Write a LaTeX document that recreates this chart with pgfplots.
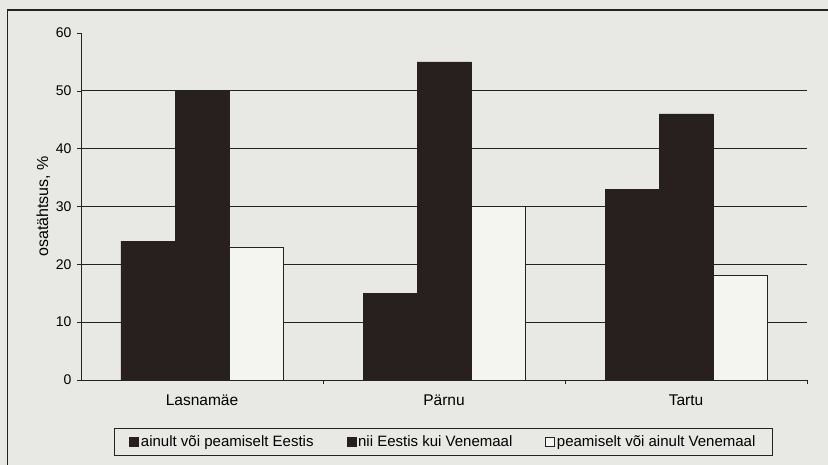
\documentclass[border=0pt]{standalone}
\usepackage{fontspec}
\setmainfont{Liberation Sans}
\usepackage{pgfplots}
\pgfplotsset{compat=1.18}

\definecolor{paper}{RGB}{232,232,228}
\definecolor{barlight}{RGB}{244,244,240}
\definecolor{bardark}{RGB}{40,32,30}
\definecolor{ink}{RGB}{35,35,35}

\begin{document}
\begin{tikzpicture}
  \useasboundingbox (0,0) rectangle (828bp,465bp);
  \fill[paper] (0,0) rectangle (828bp,465bp);
  % outer frame of the figure
  \draw[ink, line width=1.6bp] (7.5bp,-5bp) -- (7.5bp,455bp) -- (840bp,455bp);

  \begin{axis}[
    at={(81bp,85bp)}, anchor=south west,
    scale only axis,
    width=726bp, height=347bp,
    xmin=-0.5, xmax=2.5,
    ymin=0, ymax=60,
    enlargelimits=false,
    axis x line*=bottom,
    axis y line*=left,
    axis line style={-, ink, line width=0.8bp},
    ybar=0pt,
    bar width=54bp,
    tick align=outside,
    major tick length=4bp,
    xtick={0,1,2},
    xticklabels={Lasnamäe, Pärnu, Tartu},
    major x tick style={draw=none},
    extra x ticks={0.5,1.5,2.5},
    extra x tick labels={},
    extra x tick style={major x tick style={draw=ink, line width=0.6bp}, grid=none},
    xticklabel style={font=\fontsize{15.5bp}{17bp}\selectfont, yshift=-7bp},
    ytick={0,10,...,50},
    extra y ticks={60},
    extra y tick style={grid=none},
    ymajorgrids,
    grid style={ink, line width=0.9bp},
    ytick style={ink, line width=0.6bp},
    yticklabel style={font=\fontsize{14bp}{16bp}\selectfont, xshift=-2bp},
    /pgf/number format/assume math mode=true,
    ylabel={osatähtsus, \%},
    ylabel style={font=\fontsize{16bp}{18bp}\selectfont, yshift=-9bp},
    legend columns=3,
    legend style={
      at={(0.0455,-0.138)}, anchor=north west,
      draw=ink, line width=0.7bp, fill=paper,
      font=\fontsize{15bp}{17bp}\selectfont,
      inner xsep=15bp, inner ysep=5.5bp,
      /tikz/every even column/.append style={column sep=31bp},
    },
    legend image code/.code={\draw[#1, line width=0.6bp] (0bp,-4.5bp) rectangle (9bp,4.5bp);},
  ]
    \addplot[fill=bardark, draw=bardark] coordinates {(0,24) (1,15) (2,33)};
    \addlegendentry{ainult või peamiselt Eestis}
    \addplot[fill=bardark, draw=bardark] coordinates {(0,50) (1,55) (2,46)};
    \addlegendentry{nii Eestis kui Venemaal}
    \addplot[fill=barlight, draw=ink, line width=0.9bp] coordinates {(0,23) (1,30) (2,18)};
    \addlegendentry{peamiselt või ainult Venemaal}
  \end{axis}
\end{tikzpicture}
\end{document}
